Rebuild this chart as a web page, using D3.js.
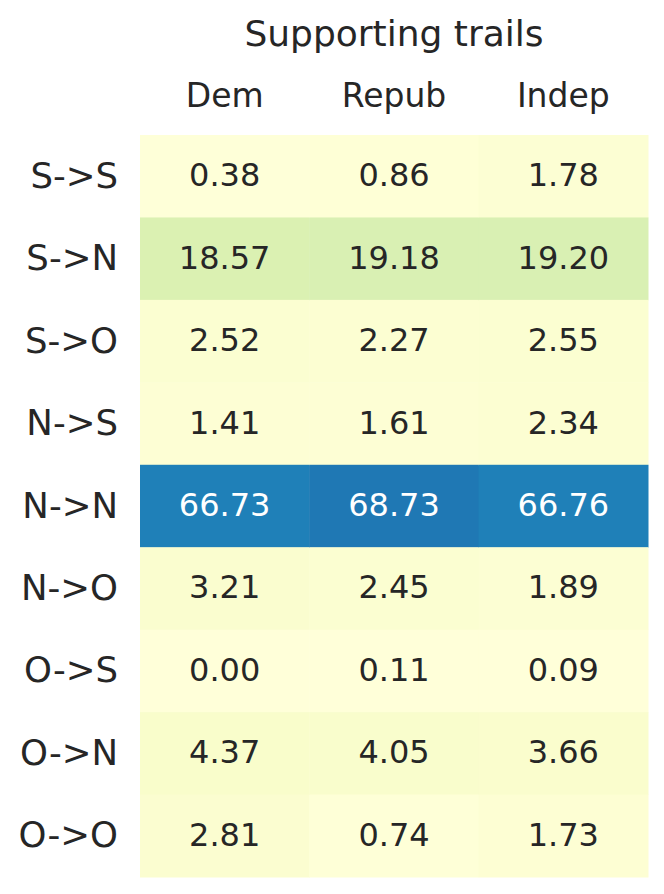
<!DOCTYPE html>
<html>
<head>
<meta charset="utf-8">
<script src="https://cdn.jsdelivr.net/npm/d3@7"></script>
<style>
	body { margin: 0; background: #fff; }
	text { font-family: "DejaVu Sans", sans-serif; fill: #262626; }
</style>
</head>
<body>
<div id="chart"></div>
<script>
const rows = ['S->S', 'S->N', 'S->O', 'N->S', 'N->N', 'N->O', 'O->S', 'O->N', 'O->O'];
const cols = ['Dem', 'Repub', 'Indep'];
const dem = [0.38, 18.57, 2.52, 1.41, 66.73, 3.21, 0.00, 4.37, 2.81];
const repub = [0.86, 19.18, 2.27, 1.61, 68.73, 2.45, 0.11, 4.05, 0.74];
const indep = [1.78, 19.20, 2.55, 2.34, 66.76, 1.89, 0.09, 3.66, 1.73];
const title = 'Supporting trails';

// matplotlib YlGnBu anchor colours
const ylgnbu = ['#ffffd9', '#edf8b1', '#c7e9b4', '#7fcdbb', '#41b6c4', '#1d91c0', '#225ea8', '#253494', '#081d58'];

const width = 664;
const height = 894;
const margin = { top: 135, right: 16, bottom: 17, left: 140 };

const svg = d3.select('#chart').append('svg')
	.attr('width', width)
	.attr('height', height);

const chart = svg.append('g')
	.attr('transform', `translate(${margin.left}, ${margin.top})`);

const innerW = width - margin.left - margin.right;
const innerH = height - margin.top - margin.bottom;

const x = d3.scaleBand().domain(cols).range([0, innerW]);
const y = d3.scaleBand().domain(rows).range([0, innerH]);
const color = d3.scaleLinear()
	.domain(d3.range(ylgnbu.length).map(i => i * 100 / (ylgnbu.length - 1)))
	.range(ylgnbu)
	.interpolate(d3.interpolateRgb);

const series = [dem, repub, indep];
const cells = [];
cols.forEach((c, j) => {
	rows.forEach((r, i) => cells.push({ row: r, col: c, value: series[j][i] }));
});

const lum = c => {
	const rgb = d3.rgb(c);
	const f = v => { v /= 255; return v <= 0.03928 ? v / 12.92 : Math.pow((v + 0.055) / 1.055, 2.4); };
	return 0.2126 * f(rgb.r) + 0.7152 * f(rgb.g) + 0.0722 * f(rgb.b);
};

chart.selectAll('.cell')
	.data(cells)
	.enter().append('rect')
		.attr('class', 'cell')
		.attr('x', d => x(d.col))
		.attr('y', d => y(d.row))
		.attr('width', x.bandwidth() + 0.5)
		.attr('height', y.bandwidth() + 0.5)
		.style('fill', d => color(d.value));

chart.selectAll('.val')
	.data(cells)
	.enter().append('text')
		.attr('class', 'val')
		.attr('x', d => x(d.col) + x.bandwidth() / 2)
		.attr('y', d => y(d.row) + y.bandwidth() / 2 - 1)
		.attr('text-anchor', 'middle')
		.attr('dominant-baseline', 'central')
		.style('font-size', '32px')
		.style('fill', d => lum(color(d.value)) < 0.408 ? '#ffffff' : '#262626')
		.text(d => d.value.toFixed(2));

// column labels
chart.selectAll('.col')
	.data(cols)
	.enter().append('text')
		.attr('x', d => x(d) + x.bandwidth() / 2)
		.attr('y', -28)
		.attr('text-anchor', 'middle')
		.style('font-size', '33px')
		.text(d => d);

// row labels
chart.selectAll('.row')
	.data(rows)
	.enter().append('text')
		.attr('x', -22)
		.attr('y', d => y(d) + y.bandwidth() / 2 - 1)
		.attr('text-anchor', 'end')
		.attr('dominant-baseline', 'central')
		.style('font-size', '35.5px')
		.text(d => d);

chart.append('text')
	.attr('x', innerW / 2)
	.attr('y', -89)
	.attr('text-anchor', 'middle')
	.style('font-size', '36px')
	.text(title);
</script>
</body>
</html>
